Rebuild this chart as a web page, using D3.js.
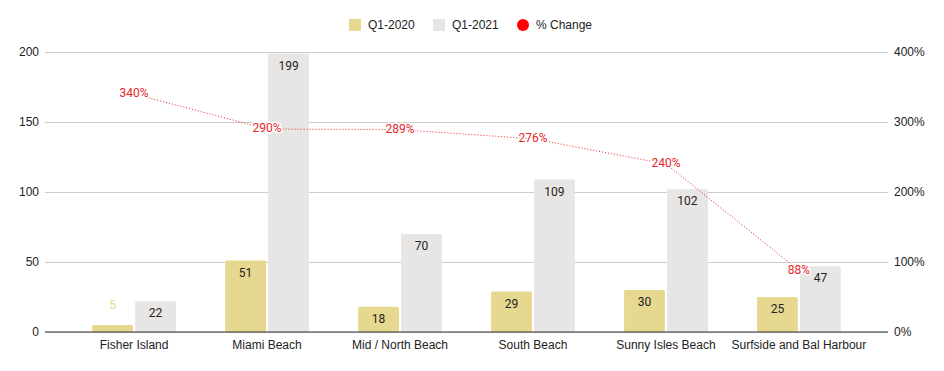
<!DOCTYPE html>
<html>
<head>
<meta charset="utf-8">
<script src="https://d3js.org/d3.v7.min.js"></script>
<style>
  body { margin: 0; background: #fff; }
  svg { font-family: "Liberation Sans", Arial, sans-serif; }
  .tick text { font-size: 12px; fill: #222; }
  .annot { font-family: Roboto, Arial, sans-serif; }
</style>
</head>
<body>
<svg id="chart"></svg>
<script>
const categories = ['Fisher Island', 'Miami Beach', 'Mid / North Beach', 'South Beach', 'Sunny Isles Beach', 'Surfside and Bal Harbour'];
const q2020 = [5, 51, 18, 29, 30, 25];
const q2021 = [22, 199, 70, 109, 102, 47];
const pctChange = [340, 290, 289, 276, 240, 88];
const leftTicks = [0, 50, 100, 150, 200];
const rightTicks = [0, 100, 200, 300, 400];

const seriesNames = ['Q1-2020', 'Q1-2021'];
const seriesColors = ['#e6d88e', '#e8e6e4'];
const lineColor = '#e8262b';

let width = 944, height = 371,
  margin = {top: 52, right: 56, bottom: 39, left: 45};

var svg = d3.select('#chart')
    .attr('width', width)
    .attr('height', height);

var x = d3.scaleBand()
  .domain(categories)
  .range([margin.left, width - margin.right])
  .paddingOuter(0.17)
  .paddingInner(0);

var x1 = d3.scaleBand()
  .domain(seriesNames)
  .range([x.bandwidth() * 0.185, x.bandwidth() * 0.815])
  .paddingInner(0.05);

var y = d3.scaleLinear().domain([0, 200]).range([height - margin.bottom, margin.top]);
var y2 = d3.scaleLinear().domain([0, 400]).range([height - margin.bottom, margin.top]);

//gridlines + left labels
var gl = svg.append('g')
  .attr('transform', 'translate(' + margin.left + ',0)')
  .call(d3.axisLeft(y).tickValues(leftTicks).tickSize(-(width - margin.left - margin.right)).tickPadding(6));
gl.select('.domain').remove();
gl.selectAll('.tick line').attr('stroke', '#cccccc');

//right labels
var gr = svg.append('g')
  .attr('transform', 'translate(' + (width - margin.right) + ',0)')
  .call(d3.axisRight(y2).tickValues(rightTicks).tickFormat(d => d + '%').tickSize(0).tickPadding(6));
gr.select('.domain').remove();

//bars
var groups = svg.append('g').selectAll('g')
  .data(categories)
  .enter()
  .append('g')
  .attr('transform', d => 'translate(' + x(d) + ',0)');

var bars = groups.selectAll('g')
  .data((d, i) => [
    {name: seriesNames[0], value: q2020[i], color: seriesColors[0]},
    {name: seriesNames[1], value: q2021[i], color: seriesColors[1]}
  ])
  .enter().append('g');

bars.append('rect')
  .attr('x', d => x1(d.name))
  .attr('width', x1.bandwidth())
  .attr('y', d => y(d.value))
  .attr('height', d => y(0) - y(d.value))
  .attr('rx', 1.5)
  .attr('fill', d => d.color);

//small bars get their label above, in the bar colour
bars.append('text')
  .classed('annot', true)
  .attr('x', d => x1(d.name) + x1.bandwidth() / 2)
  .attr('y', d => (y(0) - y(d.value) < 20) ? y(d.value) - 19 : y(d.value) + 13)
  .attr('dominant-baseline', 'middle')
  .attr('text-anchor', 'middle')
  .attr('font-size', 12)
  .attr('fill', d => (y(0) - y(d.value) < 20) ? d.color : '#222')
  .text(d => d.value);

//baseline
svg.append('line')
  .attr('x1', margin.left).attr('x2', width - margin.right)
  .attr('y1', y(0)).attr('y2', y(0))
  .attr('stroke', '#333').attr('stroke-width', 1);

//category labels
svg.append('g').selectAll('text')
  .data(categories)
  .enter().append('text')
  .attr('x', d => x(d) + x.bandwidth() / 2)
  .attr('y', y(0) + 14)
  .attr('dominant-baseline', 'middle')
  .attr('text-anchor', 'middle')
  .attr('font-size', 12)
  .attr('fill', '#222')
  .text(d => d);

//% change line
var line = d3.line()
  .x((d, i) => x(categories[i]) + x.bandwidth() / 2)
  .y(d => y2(d));

svg.append('path')
  .datum(pctChange)
  .attr('d', line)
  .attr('fill', 'none')
  .attr('stroke', lineColor)
  .attr('stroke-width', 1)
  .attr('stroke-dasharray', '1,2');

svg.append('g').selectAll('text')
  .data(pctChange)
  .enter().append('text')
  .classed('annot', true)
  .attr('x', (d, i) => x(categories[i]) + x.bandwidth() / 2)
  .attr('y', d => y2(d))
  .attr('dominant-baseline', 'middle')
  .attr('text-anchor', 'middle')
  .attr('font-size', 12)
  .attr('fill', lineColor)
  .attr('stroke', '#fff')
  .attr('stroke-width', 3)
  .attr('paint-order', 'stroke')
  .text(d => d + '%');

//legend
var legendItems = [
  {name: seriesNames[0], color: seriesColors[0], shape: 'rect', x: 349},
  {name: seriesNames[1], color: seriesColors[1], shape: 'rect', x: 433},
  {name: '% Change', color: '#ff0000', shape: 'circle', x: 517}
];
var lg = svg.append('g').selectAll('g')
  .data(legendItems)
  .enter().append('g')
  .attr('transform', d => 'translate(' + d.x + ',25)');

lg.filter(d => d.shape === 'rect').append('rect')
  .attr('x', 0).attr('y', -6).attr('width', 12).attr('height', 12)
  .attr('fill', d => d.color);
lg.filter(d => d.shape === 'circle').append('circle')
  .attr('cx', 6).attr('cy', 0).attr('r', 6)
  .attr('fill', d => d.color);
lg.append('text')
  .attr('x', 19)
  .attr('y', 1)
  .attr('dominant-baseline', 'middle')
  .attr('font-size', 12)
  .attr('fill', '#222')
  .text(d => d.name);
</script>
</body>
</html>
